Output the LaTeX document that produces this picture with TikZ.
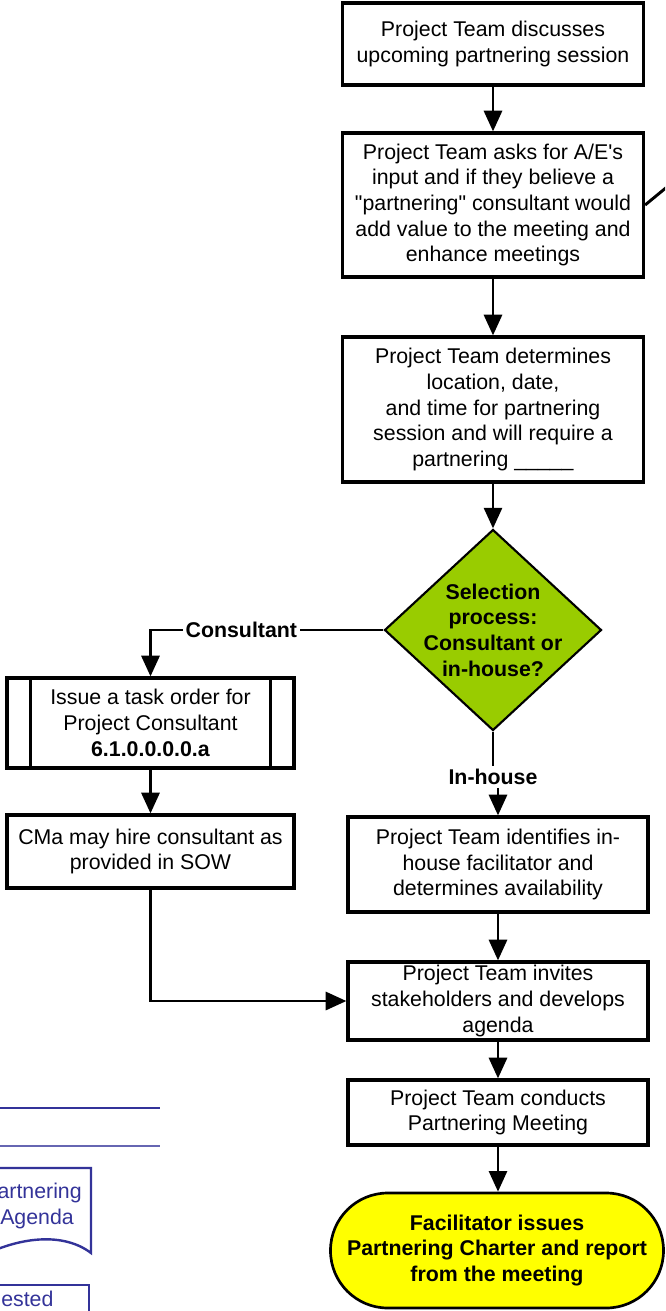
\documentclass[tikz,border=0pt]{standalone}
\usepackage{fontspec}
\setmainfont{Liberation Sans}
\usetikzlibrary{arrows.meta,shapes.geometric}
\definecolor{dgreen}{HTML}{99CC00}
\definecolor{vblue}{HTML}{333399}
\definecolor{tyellow}{HTML}{FFFF00}
\begin{document}
\begin{tikzpicture}[x=0.75pt,y=-0.75pt,
  font=\fontsize{16}{19.3}\selectfont,
  box/.style={draw, line width=2.4pt, fill=white, align=center, minimum width=225.75pt, inner sep=2pt},
  conn/.style={line width=2.2pt},
  arr/.style={conn, -{Triangle[length=15.5pt,width=13.5pt]}},
  lbl/.style={fill=white, font=\fontsize{16}{19.3}\selectfont\bfseries, inner sep=2pt},
  bluetxt/.style={text=vblue, inner sep=0pt},
]
\useasboundingbox (0,0) rectangle (665,1311);
\clip (0,0) rectangle (665,1311);

% main column
\node[box, minimum height=61.5pt] (b1) at (493,44) {Project Team discusses\\upcoming partnering session};
\node[box, minimum height=108pt] (b2) at (493,205) {Project Team asks for A/E\textquotesingle s\\input and if they believe a\\\textquotedbl partnering\textquotedbl\ consultant would\\add value to the meeting and\\enhance meetings};
\node[box, minimum height=108.75pt] (b3) at (493,409.5) {Project Team determines\\location, date,\\and time for partnering\\session and will require a\\partnering \_\_\_\_\_};
\node[diamond, draw, line width=1.6pt, fill=dgreen, minimum width=162.75pt, minimum height=150.75pt, inner sep=0pt] (dia) at (493,630) {};
\node[align=center, font=\fontsize{16}{19.3}\selectfont\bfseries] (diat) at (dia) {Selection\\process:\\Consultant or\\in-house?};

\node[lbl] (ihl) at (493,777) {In-house};
\node[box, minimum width=225pt, minimum height=71.25pt] (b4) at (498,864.5) {Project Team identifies in-\\house facilitator and\\determines availability};
\node[box, minimum width=225pt, minimum height=58.5pt] (b5) at (498,1001) {Project Team invites\\stakeholders and develops\\agenda};
\node[box, minimum width=225pt, minimum height=48.75pt] (b6) at (498,1112.5) {Project Team conducts\\Partnering Meeting};
\node[draw, line width=2pt, fill=tyellow, rounded corners=43pt, minimum width=249.75pt, minimum height=86.25pt, align=center, font=\fontsize{16}{19.3}\selectfont\bfseries] (term) at (497,1250.5) {Facilitator issues\\Partnering Charter and report\\from the meeting};

% left column
\node[box, minimum width=215.25pt, minimum height=67.5pt] (iss) at (150.5,723) {Issue a task order for\\Project Consultant\\\textbf{6.1.0.0.0.0.a}};
\draw[line width=2.4pt] ([xshift=18.75pt]iss.north west) -- ([xshift=18.75pt]iss.south west);
\draw[line width=2.4pt] ([xshift=-18.75pt]iss.north east) -- ([xshift=-18.75pt]iss.south east);
\node[box, minimum width=215.25pt, minimum height=54.75pt] (cma) at (150.5,851.5) {CMa may hire consultant as\\provided in SOW};

% connectors
\draw[arr] (b1.south) -- (b2.north);
\draw[arr] (b2.south) -- (b3.north);
\draw[arr] (b3.south) -- (dia.north);
\draw[conn] (dia.south) -- (ihl.north);
\draw[arr] (ihl.south -| b4.north) -- (b4.north);
\draw[arr] (b4.south) -- (b5.north);
\draw[arr] (b5.south) -- (b6.north);
\draw[arr] (b6.south) -- (b6.south |- term.north);
\draw[arr] (dia.west) -| node[lbl, pos=0.305] (cl) {Consultant} (iss.north);
\draw[arr] (iss.south) -- (cma.north);
\draw[arr] (cma.south) |- (b5.west);
\coordinate (off) at (690,168);
\draw[conn] (b2.east) -- (off);

% partial shapes bottom left
\coordinate (l1a) at (-5,1108);
\coordinate (l1b) at (160,1108);
\coordinate (l2a) at (-5,1146);
\coordinate (l2b) at (160,1146);
\draw[vblue, line width=1.3pt] (l1a) -- (l1b);
\draw[vblue!75, line width=1.1pt] (l2a) -- (l2b);
\draw[vblue, line width=1.8pt, fill=white] (-30,1168) -- (91,1168) -- (91,1253) .. controls (65,1233) and (20,1234) .. (-30,1262);
\node[bluetxt, anchor=base east] (pa) at (82,1198) {artnering};
\node[bluetxt, anchor=base west] (pb) at (0,1224) {Agenda};
\draw[vblue, line width=1.8pt] (-20,1285) -- (89,1285) -- (89,1330);
\node[bluetxt, anchor=base west] (rq) at (1,1306) {ested};
\end{tikzpicture}
\end{document}
